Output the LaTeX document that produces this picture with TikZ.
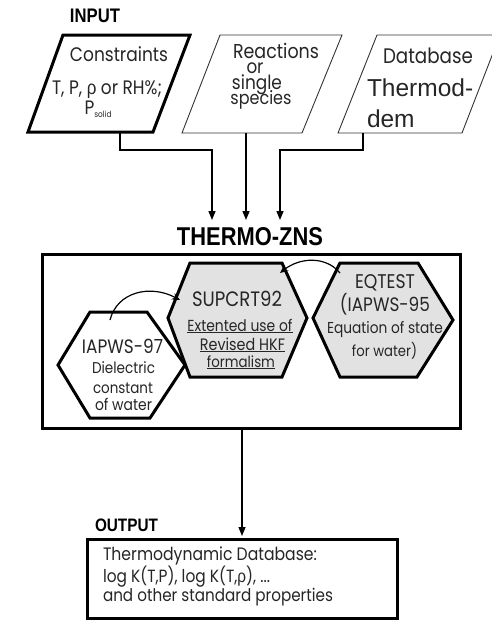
\documentclass[tikz,border=0pt]{standalone}
\usepackage{graphicx}
\usepackage{fontspec}
\setmainfont{Poppins}
\newfontfamily\arialf{Liberation Sans}
\newfontface\headf[FakeStretch=0.85]{Liberation Sans Bold}
\usetikzlibrary{arrows.meta}
\definecolor{ink}{HTML}{262626}
\definecolor{hexfill}{HTML}{E2E2E2}
\newcommand{\fs}[1]{\fontsize{#1}{#1}\selectfont}
\newcommand{\tw}[2]{\resizebox{#1}{!}{\scalebox{1}[1.15]{#2}}}
\newcommand{\hw}[2]{\resizebox{#1}{!}{#2}}
\tikzset{
  thickline/.style={line width=3pt,line join=miter,draw=black},
  thinline/.style={line width=0.9pt,line join=miter,draw=black!80},
  arr/.style={line width=1.4pt,-{Triangle[length=9pt,width=7pt]}},
  carr/.style={line width=1.2pt,-{Stealth[length=8pt,width=7pt]}},
  txt/.style={inner sep=0pt,outer sep=0pt,align=center,text=ink,anchor=base,font=\fs{16}},
  ltxt/.style={txt,anchor=base west},
  head/.style={inner sep=0pt,outer sep=0pt,text=black,font=\headf\fs{20},anchor=base},
}
\begin{document}
\begin{tikzpicture}[x=1pt,y=-1pt]
\useasboundingbox (0,0) rectangle (492,622);

% INPUT
\node[head,anchor=base west] (inl) at (70,22) {\hw{50pt}{INPUT}};

% parallelograms
\draw[thickline] (63,35) -- (190,35) -- (153,132) -- (28,132) -- cycle;
\draw[thinline] (220,35) -- (342,35) -- (302,133) -- (182,133) -- cycle;
\draw[thinline] (377,35) -- (500,35) -- (462,133) -- (338,133) -- cycle;

\node[txt] (c1) at (119,61) {\tw{98pt}{Constraints}};
\node[txt] (c2) at (107,94) {\tw{110pt}{T, P, {\arialf ρ} or RH\%;}};
\node[txt] (c3) at (98,114) {\tw{27pt}{P{\fs{7}\raisebox{-3pt}{solid}}}};

\node[txt,anchor=center,font={\fontsize{14}{15.5}\selectfont\lineskiplimit=-50pt\lineskip=0pt}] (r1) at (255,76)
  {\hspace*{42pt}\tw{86pt}{Reactions}\\ \tw{17pt}{or}\\ \hspace*{4pt}\tw{50pt}{single}\\ \hspace*{12pt}\tw{61pt}{species}};

\node[txt] (d1) at (428,63) {\tw{90pt}{Database}};
\node[txt,anchor=base west,font=\arialf\fs{24.5}] (d2) at (367,96) {Thermod-};
\node[txt,anchor=base west,font=\arialf\fs{24.5}] (d3) at (367,127) {dem};

\coordinate (p1b) at (120,133);
\coordinate (p2b) at (246,133);
\coordinate (p3b) at (363,133);
\coordinate (t1) at (212,220);
\coordinate (t2) at (246,220);
\coordinate (t3) at (280,220);
\draw[arr] (p1b) -- (120,150) -| (t1);
\draw[arr] (p2b) -- (t2);
\draw[arr] (p3b) -- (363,150) -| (t3);

% THERMO-ZNS
\node[head] (tz) at (250,245) {\hw{146pt}{THERMO-ZNS}};
\draw[thickline] (42,254) rectangle (460,428);

% hexagons
\draw[thickline,fill=hexfill] (168,318) -- (190,263) -- (282,263) -- (307,318) -- (282,377) -- (190,377) -- cycle;
\draw[thickline,fill=hexfill] (313,318) -- (340,263) -- (418,263) -- (453,320) -- (417,377) -- (340,377) -- cycle;
\draw[thickline,fill=white] (58,365) -- (90,312) -- (147,312) -- (185,365) -- (150,418) -- (90,418) -- cycle;

\node[txt] (s1) at (237,306) {\tw{90pt}{SUPCRT92}};
\node[txt] (s2) at (240,331) {\tw{105pt}{\underline{Extented use of}}};
\node[txt] (s3) at (242.5,350) {\tw{85pt}{\underline{Revised HKF}}};
\node[txt] (s4) at (241,367) {\tw{68pt}{\underline{formalism}}};

\node[txt] (e1) at (385,288) {\tw{60pt}{EQTEST}};
\node[txt] (e2) at (385,311) {\tw{90pt}{(IAPWS-95}};
\node[txt] (e3) at (385,333) {\tw{116pt}{Equation of state}};
\node[txt] (e4) at (384.5,356) {\tw{65pt}{for water)}};

\node[txt] (i1) at (122.5,353) {\tw{81pt}{IAPWS-97}};
\node[txt] (i2) at (123.5,373) {\tw{63pt}{Dielectric}};
\node[txt] (i3) at (123,393) {\tw{60pt}{constant}};
\node[txt] (i4) at (123.5,410) {\tw{57pt}{of water}};

\coordinate (ia) at (110,320);
\coordinate (sa) at (180,300);
\coordinate (ea) at (340,273);
\coordinate (sb) at (280,273);
\draw[carr] (ia) .. controls (117,292) and (150,284) .. (sa);
\draw[carr] (ea) .. controls (326,256) and (300,257) .. (sb);

% output
\coordinate (bb) at (242,428);
\coordinate (ob) at (242,536);
\draw[arr] (bb) -- (ob);
\node[head,anchor=base west] (outl) at (95,531) {\hw{63pt}{OUTPUT}};
\draw[thickline] (87,539) rectangle (397,618);
\node[ltxt] (o1) at (103,560) {\tw{214pt}{Thermodynamic Database:}};
\node[ltxt] (o2) at (103,582) {\tw{167pt}{log K(T,P), log K(T,{\arialf ρ}), ...}};
\node[ltxt] (o3) at (103,601) {\tw{230pt}{and other standard properties}};
\end{tikzpicture}
\end{document}
